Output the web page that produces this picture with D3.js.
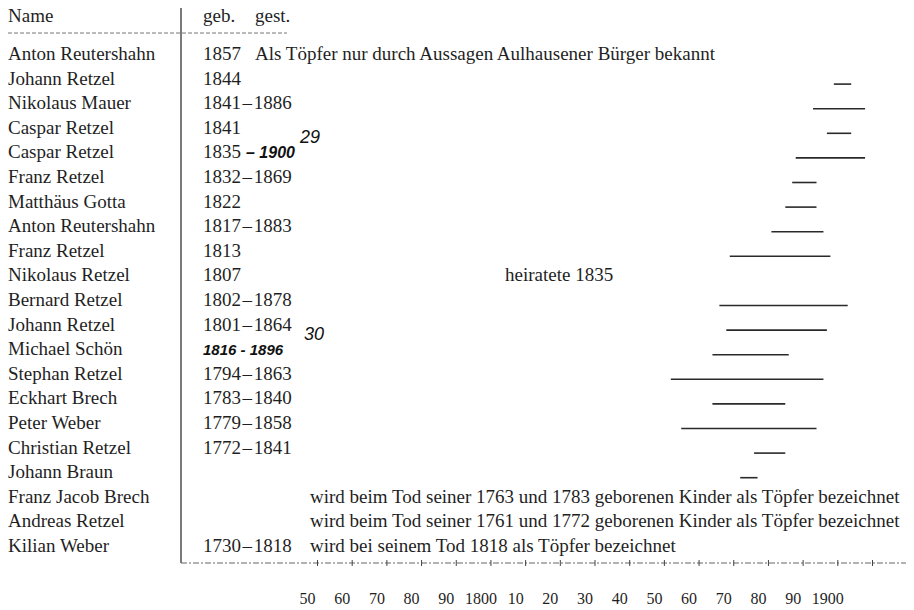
<!DOCTYPE html>
<html>
<head>
<meta charset="utf-8">
<script src="https://cdn.jsdelivr.net/npm/d3@7"></script>
<style>
    body { margin: 0; background: #fff; }
    text { font-family: "Liberation Serif", "DejaVu Serif", serif; fill: #1f1f1f; }
    .hand { font-family: "Liberation Sans", "DejaVu Sans", sans-serif; font-style: italic; font-weight: bold; fill: #111; }
</style>
</head>
<body>
<div id="chart"></div>
<script>
// table rows, top to bottom
const names = ["Anton Reutershahn", "Johann Retzel", "Nikolaus Mauer", "Caspar Retzel", "Caspar Retzel",
    "Franz Retzel", "Matthäus Gotta", "Anton Reutershahn", "Franz Retzel", "Nikolaus Retzel",
    "Bernard Retzel", "Johann Retzel", "Michael Schön", "Stephan Retzel", "Eckhart Brech",
    "Peter Weber", "Christian Retzel", "Johann Braun", "Franz Jacob Brech", "Andreas Retzel", "Kilian Weber"]
const born = [1857, 1844, 1841, 1841, 1835, 1832, 1822, 1817, 1813, 1807, 1802, 1801, null, 1794, 1783, 1779, 1772, null, null, null, 1730]
const died = [null, null, 1886, null, null, 1869, null, 1883, null, null, 1878, 1864, null, 1863, 1840, 1858, 1841, null, null, null, 1818]
const notes = ["Als Töpfer nur durch Aussagen Aulhausener Bürger bekannt", "", "", "", "", "", "", "", "",
    "heiratete 1835", "", "", "", "", "", "", "", "",
    "wird beim Tod seiner 1763 und 1783 geborenen Kinder als Töpfer bezeichnet",
    "wird beim Tod seiner 1761 und 1772 geborenen Kinder als Töpfer bezeichnet",
    "wird bei seinem Tod 1818 als Töpfer bezeichnet"]

// activity lines, read against the printed year axis
const activeFrom = [null, 1899, 1893, 1897, 1888, 1887, 1885, 1881, 1869, null, 1866, 1868, 1864, 1852, 1864, 1855, 1876, 1872, null, null, null]
const activeTo = [null, 1904, 1908, 1904, 1908, 1894, 1894, 1896, 1898, null, 1903, 1897, 1886, 1896, 1885, 1894, 1885, 1877, null, null, null]

// handwritten additions
const handRows = [4, 12]
const handDates = ["– 1900", "1816 - 1896"]
const handRefs = ["29", "30"]

const tickYears = d3.range(1750, 1911, 10)
const labelYears = d3.range(1750, 1901, 10)
const tickLabels = ["50", "60", "70", "80", "90", "1800", "10", "20", "30", "40", "50", "60", "70", "80", "90", "1900"]

draw()

function draw() {
    const width = 914, height = 610
    const nameX = 8, yearX = 203, sepX = 181, axisY = 563

    const svg = d3.select("#chart").append("svg")
        .attr("width", width)
        .attr("height", height)

    // row baselines
    const y = d3.scaleLinear().domain([0, names.length - 1]).range([60, 552])
    // years on the time axis
    const x = d3.scaleLinear().domain([1750, 1910]).range([317, 872])

    // header
    svg.append("text").attr("x", nameX).attr("y", 22).style("font-size", "19px").text("Name")
    svg.append("text").attr("x", yearX).attr("y", 22).style("font-size", "19px").text("geb.")
    svg.append("text").attr("x", 255).attr("y", 22).style("font-size", "19px").text("gest.")
    svg.append("line")
        .attr("x1", nameX).attr("x2", 287).attr("y1", 33).attr("y2", 33)
        .attr("stroke", "#777").attr("stroke-width", 1).attr("stroke-dasharray", "4,2")

    // separator between names and years
    svg.append("line")
        .attr("x1", sepX).attr("x2", sepX).attr("y1", 8).attr("y2", axisY)
        .attr("stroke", "#333").attr("stroke-width", 1.3)

    const rows = svg.selectAll("g.row")
        .data(d3.range(names.length))
        .enter()
        .append("g")
        .attr("class", "row")
        .attr("transform", i => `translate(0,${y(i)})`)

    rows.append("text")
        .attr("x", nameX)
        .style("font-size", "19px")
        .text(i => names[i])

    rows.append("text")
        .attr("x", yearX)
        .style("font-size", "19px")
        .text(i => {
            if (born[i] === null) return ""
            return died[i] === null ? born[i] : `${born[i]}\u200a–\u200a${died[i]}`
        })

    // notes sit at different places depending on the row
    rows.append("text")
        .attr("x", i => i === 0 ? 255 : (i === 9 ? 505 : 310))
        .style("font-size", "19px")
        .text(i => notes[i])

    // activity lines
    rows.filter(i => activeFrom[i] !== null)
        .append("line")
        .attr("x1", i => x(activeFrom[i]))
        .attr("x2", i => x(activeTo[i]))
        .attr("y1", -0.5).attr("y2", -0.5)
        .attr("stroke", "#2a2a2a").attr("stroke-width", 1.6)

    // handwritten dates and footnote numbers
    handRows.forEach((r, k) => {
        svg.append("text")
            .attr("class", "hand")
            .attr("x", born[r] === null ? yearX : 246)
            .attr("y", y(r))
            .style("font-size", born[r] === null ? "15px" : "16px")
            .text(handDates[k])
        svg.append("text")
            .attr("class", "hand")
            .attr("x", born[r] === null ? 304 : 300)
            .attr("y", y(r) - 15)
            .style("font-size", "18px")
            .style("font-weight", "normal")
            .text(handRefs[k])
    })

    // time axis
    svg.append("line")
        .attr("x1", sepX).attr("x2", 906).attr("y1", axisY).attr("y2", axisY)
        .attr("stroke", "#666").attr("stroke-width", 1).attr("stroke-dasharray", "6,2,2,2")

    const axis = svg.append("g")
        .attr("transform", `translate(0,${axisY})`)
        .call(d3.axisBottom(x).tickValues(tickYears).tickSize(0).tickPadding(30)
            .tickFormat(d => labelYears.indexOf(d) === -1 ? "" : tickLabels[labelYears.indexOf(d)]))
    axis.select(".domain").remove()
    axis.selectAll(".tick line")
        .attr("y1", -3).attr("y2", 3)
        .attr("stroke", "#444").attr("stroke-width", 1)
    axis.selectAll(".tick text")
        .attr("dx", -10)
        .style("font-family", "\"Liberation Serif\", serif")
        .style("font-size", "16px")
        .attr("fill", "#1f1f1f")
}
</script>
</body>
</html>
